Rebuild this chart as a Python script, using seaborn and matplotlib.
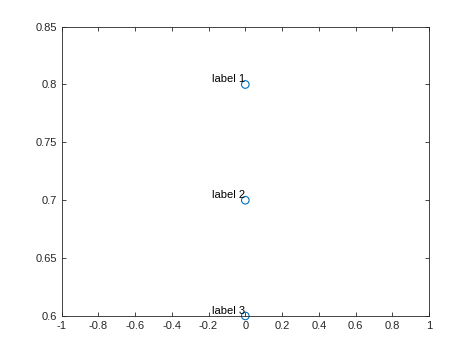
import matplotlib
matplotlib.use("Agg")
import matplotlib.pyplot as plt
import seaborn as sns
import pandas as pd

x_vals = [0, 0, 0]
y_vals = [0.8, 0.7, 0.6]
labels = ["label 1", "label 2", "label 3"]
x_ticks = [-1, -0.8, -0.6, -0.4, -0.2, 0, 0.2, 0.4, 0.6, 0.8, 1]
x_tick_labels = ["-1", "-0.8", "-0.6", "-0.4", "-0.2", "0", "0.2", "0.4", "0.6", "0.8", "1"]
y_ticks = [0.6, 0.65, 0.7, 0.75, 0.8, 0.85]
y_tick_labels = ["0.6", "0.65", "0.7", "0.75", "0.8", "0.85"]

sns.set_style("white")
plt.rcParams['font.family'] = ['Liberation Sans', 'DejaVu Sans']

df = pd.DataFrame({"x": x_vals, "y": y_vals, "label": labels})

fig = plt.figure(figsize=(4.74, 3.55), dpi=100)
ax = fig.add_axes([0.13, 0.11, 0.775, 0.815])
blue = (0, 0.447, 0.741)
sns.scatterplot(data=df, x="x", y="y", ax=ax, marker="o", s=30,
                facecolors="none", edgecolor=blue, linewidth=0.8, clip_on=False)
for _, r in df.iterrows():
    ax.text(r["x"], r["y"], r["label"], ha="right", va="bottom", fontsize=8, color="black")

ax.set_xlim(-1, 1)
ax.set_ylim(0.6, 0.85)
ax.set_xticks(x_ticks)
ax.set_xticklabels(x_tick_labels)
ax.set_yticks(y_ticks)
ax.set_yticklabels(y_tick_labels)
ax.set_xlabel("")
ax.set_ylabel("")
gray = (0.15, 0.15, 0.15)
for s in ax.spines.values():
    s.set_color(gray)
    s.set_linewidth(0.6)
    s.set_visible(True)
ax.tick_params(direction="in", length=3, width=0.6, colors=gray, labelsize=8,
               top=True, right=True, bottom=True, left=True, labelcolor=gray)
fig.savefig("out.png", dpi=100, facecolor="white")
